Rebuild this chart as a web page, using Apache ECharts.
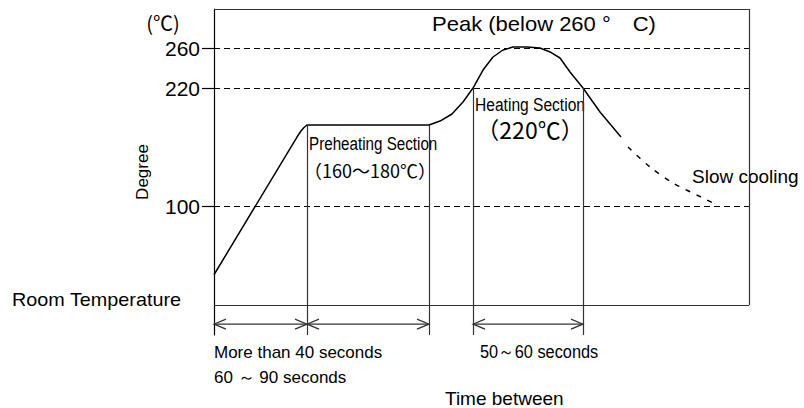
<!DOCTYPE html>
<html>
<head>
<meta charset="utf-8">
<script src="https://cdn.jsdelivr.net/npm/echarts@6/dist/echarts.min.js"></script>
<style>html,body{margin:0;padding:0;background:#fff}#c{width:804px;height:408px}</style>
</head>
<body>
<div id="c"></div>
<script>
// ---- data ----
const yTickValues = [100, 220, 260];
const refLevels = [100, 220, 260];
const heatingCurve = [
  [0, 31], [83, 170.4], [87, 176.5], [90, 180], [93, 182.6], [215, 182.6],
  [226, 186.6], [238, 193.7], [249, 205.9], [259, 220], [269, 238.2],
  [279, 251.4], [289, 258.5], [299, 261.5], [313, 261.5], [326, 260.5],
  [336, 256.5], [346, 250.4], [356, 236.2], [369, 220], [386, 195.7], [407, 170.4]
];
const coolingCurve = [[414, 160.3], [436, 140.1], [459, 123.9], [489, 108.7], [501, 102.6]];
const sectionX = [93, 215, 259, 369];
const sectionTop = [182.6, 182.6, 220, 220];
const spanStart = [0, 93, 259];
const spanEnd = [93, 215, 369];
const xMax = 535, yMin = -30, yMax = 300, roomLevel = 0, arrowLevel = -19;

const FONT = 'Liberation Sans, Arial, sans-serif';
const CJK = 'Noto Sans CJK JP, sans-serif';

const frameStyle = {color: '#333', width: 1.2, type: 'solid'};
const markData = [];
refLevels.forEach(v => markData.push({yAxis: v, lineStyle: {color: '#000', width: 1, type: [6, 4]}}));
markData.push({yAxis: yMax, lineStyle: frameStyle});
markData.push({yAxis: roomLevel, lineStyle: frameStyle});
markData.push([{coord: [xMax, roomLevel]}, {coord: [xMax, yMax], lineStyle: frameStyle}]);
sectionX.forEach((x, i) => markData.push([{coord: [x, sectionTop[i]]}, {coord: [x, yMin], lineStyle: frameStyle}]));

const arrows = spanStart.map((s, i) => [s, spanEnd[i], arrowLevel]);

function renderArrow(params, api) {
  const a = api.coord([api.value(0), api.value(2)]);
  const b = api.coord([api.value(1), api.value(2)]);
  const L = 12, H = 5;
  const style = {stroke: '#333', lineWidth: 1.2, fill: null};
  return {type: 'group', children: [
    {type: 'line', shape: {x1: a[0], y1: a[1], x2: b[0], y2: b[1]}, style: style},
    {type: 'polyline', shape: {points: [[a[0] + L, a[1] - H], [a[0], a[1]], [a[0] + L, a[1] + H]]}, style: style},
    {type: 'polyline', shape: {points: [[b[0] - L, b[1] - H], [b[0], b[1]], [b[0] - L, b[1] + H]]}, style: style}
  ]};
}

function txt(text, x, y, size, family, align, extra) {
  return Object.assign({type: 'text', x: x, y: y, silent: true,
    style: {text: text, fontSize: size, fontFamily: family, fill: '#000',
      align: align || 'left', verticalAlign: 'middle'}}, extra || {});
}

const chart = echarts.init(document.getElementById('c'), null, {renderer: 'svg'});
chart.setOption({
  animation: false,
  backgroundColor: '#fff',
  grid: {left: 214, right: 55, top: 9, bottom: 73},
  xAxis: {type: 'value', min: 0, max: xMax, show: false},
  yAxis: {
    type: 'value', min: yMin, max: yMax,
    axisLine: {show: true, lineStyle: {color: '#000', width: 1.2}},
    axisTick: {show: true, length: 12, customValues: yTickValues, lineStyle: {color: '#000', width: 1.2}},
    axisLabel: {show: true, customValues: yTickValues, margin: 14, fontSize: 21, color: '#000', fontFamily: FONT},
    splitLine: {show: false}
  },
  series: [
    {
      type: 'line', data: heatingCurve, symbol: 'none', silent: true,
      lineStyle: {color: '#000', width: 1.5},
      markLine: {silent: true, symbol: 'none', label: {show: false}, animation: false, data: markData}
    },
    {
      type: 'line', data: coolingCurve, symbol: 'none', silent: true, smooth: 0.3,
      lineStyle: {color: '#000', width: 1.5, type: [5, 7]}
    },
    {
      type: 'custom', data: arrows, renderItem: renderArrow, clip: false, silent: true,
      encode: {x: [0, 1], y: 2}
    }
  ],
  graphic: [
    txt('(℃)', 163, 22, 20, CJK, 'center'),
    txt('Peak (below 260 °\u3000C)', 432, 24, 20, FONT, 'left', {scaleX: 1.1}),
    txt('Degree', 142, 172, 17, FONT, 'center', {rotation: Math.PI / 2}),
    txt('Room Temperature', 12, 300, 18, FONT, 'left', {scaleX: 1.1}),
    txt('Preheating Section', 309, 143, 19, FONT, 'left', {scaleX: 0.8}),
    txt('（160～180℃）', 370, 170, 18, CJK, 'center'),
    txt('Heating Section', 530, 104, 19, FONT, 'center', {scaleX: 0.82}),
    txt('（220℃）', 530, 129, 23, CJK, 'center'),
    txt('Slow cooling', 692, 176, 19, FONT, 'left'),
    txt('More than 40 seconds', 214, 352, 17, FONT, 'left'),
    txt('60 ～ 90 seconds', 214, 377, 17, FONT, 'left'),
    txt('50～60 seconds', 480, 352, 19, FONT, 'left', {scaleX: 0.86}),
    txt('Time between', 445, 398, 19, FONT, 'left')
  ]
});
</script>
</body>
</html>
